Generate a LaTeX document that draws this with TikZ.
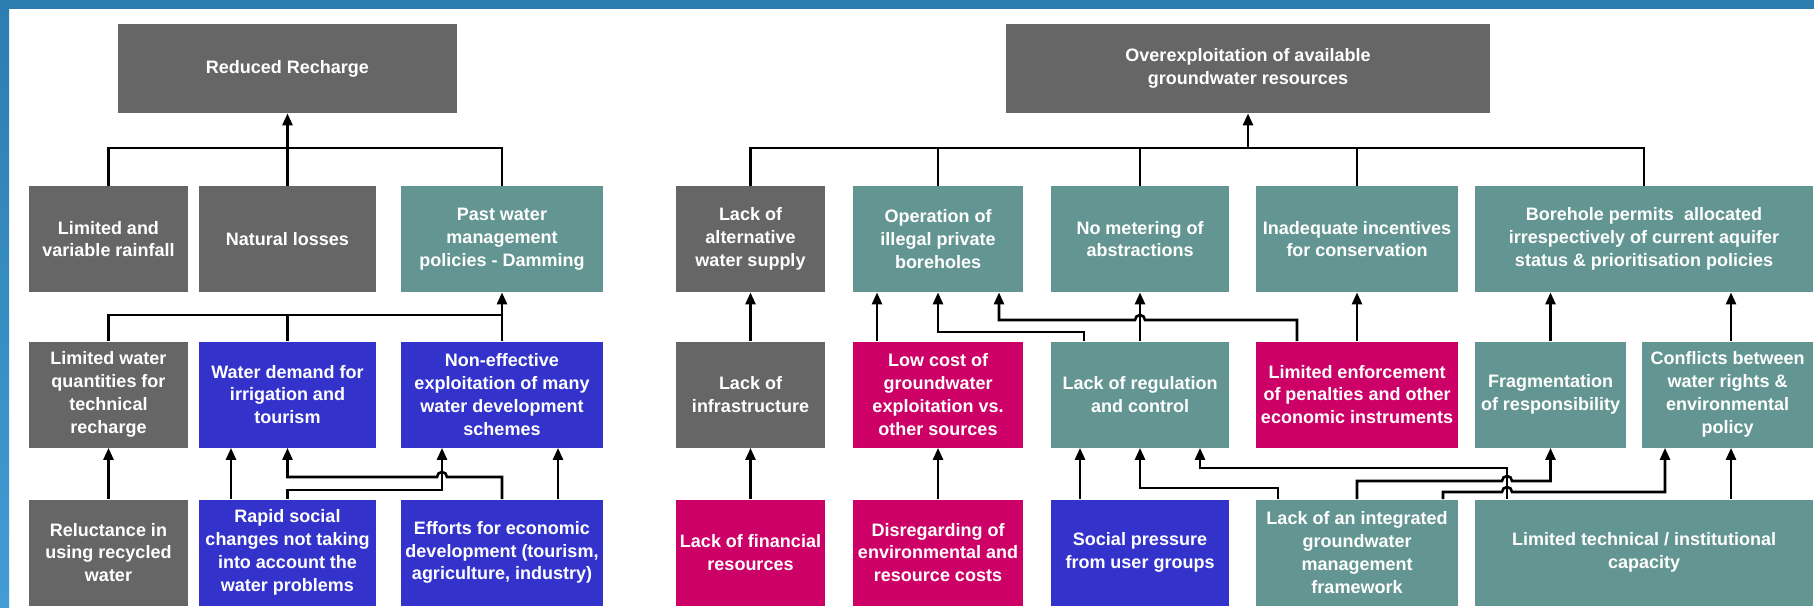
\documentclass[tikz,border=0pt]{standalone}
\usepackage{fontspec}
\setmainfont{Liberation Sans}
\usetikzlibrary{arrows.meta}

\definecolor{boxgray}{RGB}{102,102,102}
\definecolor{boxteal}{RGB}{99,150,147}
\definecolor{boxblue}{RGB}{51,51,204}
\definecolor{boxred}{RGB}{204,0,102}
\definecolor{bandtop}{RGB}{44,125,176}
\definecolor{bandlow}{RGB}{66,156,212}

\begin{document}
\begin{tikzpicture}[x=0.5pt,y=-0.5pt,
	box/.style={rectangle,inner sep=0pt,minimum height=53pt,align=center,text=white,
		font=\bfseries\fontsize{9}{11.4}\selectfont},
	wd/.style={minimum width=#1*0.5pt},
	grybox/.style={box,fill=boxgray},
	tealbox/.style={box,fill=boxteal},
	bluebox/.style={box,fill=boxblue},
	redbox/.style={box,fill=boxred},
	wire/.style={line width=1.3pt},
	arr/.style={wire,-{Triangle[length=6pt,width=5pt]}}]
	% frame
	\useasboundingbox (0,0) rectangle (1814,607);
	\fill[white] (0,0) rectangle (1814,607);
	\fill[bandtop] (0,0) rectangle (1814,9);
	\shade[top color=bandtop,bottom color=bandlow] (0,0) rectangle (9,607);

	% reduced recharge
	\node[grybox,wd=339,minimum height=44.5pt] (rr) at (287.5,68.5) {Reduced Recharge};
	\node[grybox,wd=159] (lim) at (108.5,239) {Limited and\\variable rainfall};
	\node[grybox,wd=177] (nat) at (287.5,239) {Natural losses};
	\node[tealbox,wd=202] (past) at (502,239) {Past water\\management\\policies - Damming};
	\node[grybox,wd=159] (limw) at (108.5,394.5) {Limited water\\quantities for\\technical\\recharge};
	\node[bluebox,wd=177] (wdem) at (287.5,394.5) {Water demand for\\irrigation and\\tourism};
	\node[bluebox,wd=202] (noneff) at (502,394.5) {Non-effective\\exploitation of many\\water development\\schemes};
	\node[grybox,wd=159] (relu) at (108.5,552.5) {Reluctance in\\using recycled\\water};
	\node[bluebox,wd=177] (rapid) at (287.5,552.5) {Rapid social\\changes not taking\\into account the\\water problems};
	\node[bluebox,wd=202] (effort) at (502,552.5) {Efforts for economic\\development (tourism,\\agriculture, industry)};

	% overexploitation
	\node[grybox,wd=484,minimum height=44.5pt] (ov) at (1248,68.5) {Overexploitation of available\\groundwater resources};
	\node[grybox,wd=149] (altw) at (750.5,239) {Lack of\\alternative\\water supply};
	\node[tealbox,wd=170] (illeg) at (938,239) {Operation of\\illegal private\\boreholes};
	\node[tealbox,wd=178] (meter) at (1140,239) {No metering of\\abstractions};
	\node[tealbox,wd=202] (incent) at (1357,239) {Inadequate incentives\\for conservation};
	\node[tealbox,wd=338] (bore) at (1644,239) {Borehole permits\ \ allocated\\irrespectively of current aquifer\\status \& prioritisation policies};
	\node[grybox,wd=149] (infra) at (750.5,394.5) {Lack of\\infrastructure};
	\node[redbox,wd=170] (lowc) at (938,394.5) {Low cost of\\groundwater\\exploitation vs.\\other sources};
	\node[tealbox,wd=178] (reg) at (1140,394.5) {Lack of regulation\\and control};
	\node[redbox,wd=202] (enf) at (1357,394.5) {Limited enforcement\\of penalties and other\\economic instruments};
	\node[tealbox,wd=151] (frag) at (1550.5,394.5) {Fragmentation\\of responsibility};
	\node[tealbox,wd=171] (confl) at (1727.5,394.5) {Conflicts between\\water rights \&\\environmental\\policy};
	\node[redbox,wd=149] (fin) at (750.5,552.5) {Lack of financial\\resources};
	\node[redbox,wd=170] (disr) at (938,552.5) {Disregarding of\\environmental and\\resource costs};
	\node[bluebox,wd=178] (social) at (1140,552.5) {Social pressure\\from user groups};
	\node[tealbox,wd=202] (integ) at (1357,552.5) {Lack of an integrated\\groundwater\\management\\framework};
	\node[tealbox,wd=338] (limtech) at (1644,552.5) {Limited technical / institutional\\capacity};

	% buses
	\draw[wire] (lim.north) -- (lim.north |- 0,148) -| (past.north);
	\draw[wire] (limw.north) -- (limw.north |- 0,315) -| (noneff.north);
	\draw[wire] (wdem.north) -- (wdem.north |- 0,315);
	\draw[wire] (altw.north) -- (altw.north |- 0,148) -| (bore.north);
	\foreach \n in {illeg,meter,incent}
	\draw[wire] (\n.north) -- (\n.north |- 0,148);
	\draw[arr] (ov.south |- 0,148) -- (ov.south);

	% straight arrows
	\foreach \a/\b in {nat/rr,noneff/past,relu/limw,infra/altw,fin/infra,disr/lowc,reg/meter,enf/incent}
	\draw[arr] (\a.north) -- (\b.south);
	\foreach \a/\b/\x in {rapid/wdem/231,effort/noneff/558,lowc/illeg/877,social/reg/1080,limtech/confl/1731,confl/bore/1731,frag/bore/1550.5}
	\draw[arr] (\a.north -| \x,0) -- (\b.south -| \x,0);

	% elbows and hops
	\draw[arr] (rapid.north) |- (442,490) -- (noneff.south -| 442,0);
	\draw[arr] (effort.north) |- (447,477) arc[start angle=0,end angle=-180,radius=5] -| (wdem.south);
	\draw[arr] (reg.north -| 1084,0) -- (1084,332) -| (illeg.south);
	\draw[arr] (enf.north -| 1297,0) |- (1145,320) arc[start angle=0,end angle=-180,radius=5] -| (illeg.south -| 999,0);
	\draw[arr] (integ.north -| 1278,0) -- (1278,488) -| (reg.south);
	\draw[arr] (limtech.north -| 1507,0) -- (1507,468) -| (reg.south -| 1200,0);
	\draw[arr] (integ.north) |- (1502,481) arc[start angle=180,end angle=360,radius=5] -| (frag.south);
	\draw[arr] (integ.north -| 1443,0) |- (1502,492) arc[start angle=180,end angle=360,radius=5] -| (confl.south -| 1665,0);
\end{tikzpicture}
\end{document}
